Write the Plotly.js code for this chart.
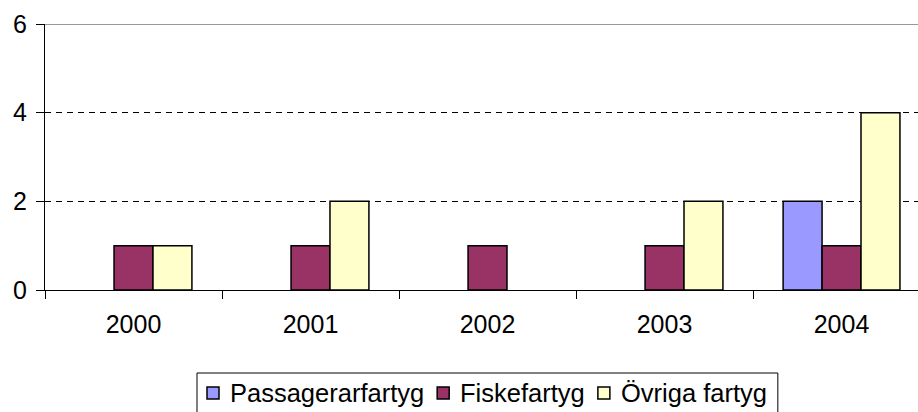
<!DOCTYPE html>
<html>
<head>
<meta charset="utf-8">
<script src="https://cdn.plot.ly/plotly-3.0.1.min.js"></script>
<style>html,body{margin:0;padding:0;background:#fff;}#chart{width:918px;height:412px;}</style>
</head>
<body>
<div id="chart"></div>
<script>
var years = ['2000', '2001', '2002', '2003', '2004'];
var seriesNames = ['Passagerarfartyg', 'Fiskefartyg', 'Övriga fartyg'];
var passagerarfartyg = [0, 0, 0, 0, 2];
var fiskefartyg = [1, 1, 1, 1, 1];
var ovrigaFartyg = [1, 2, 0, 2, 4];
var yTicks = [0, 2, 4, 6];

var colors = ['#9999FF', '#993366', '#FFFFCC'];
var values = [passagerarfartyg, fiskefartyg, ovrigaFartyg];

var W = 918, H = 412, ML = 45, MR = 0, MT = 24, MB = 122;
var plotW = W - ML - MR, plotH = H - MT - MB;
var fontFamily = 'Liberation Sans, Arial, sans-serif';
var font = {family: fontFamily, size: 25, color: '#000000'};
var legendFontSize = 25.5;
var legendFont = {family: fontFamily, size: legendFontSize, color: '#000000'};

var traces = values.map(function (v, i) {
  return {
    type: 'bar',
    name: seriesNames[i],
    x: years,
    y: v,
    marker: {
      color: colors[i],
      line: {color: '#000000', width: v.map(function (d) { return d > 0 ? 1.5 : 0; })}
    },
    showlegend: false,
    hoverinfo: 'x+y+name'
  };
});

// custom legend (text measured so items sit close like the original)
function px2x(px) { return (px - ML) / plotW; }
function px2y(py) { return (MT + plotH - py) / plotH; }
var ctx = document.createElement('canvas').getContext('2d');
ctx.font = legendFontSize + 'px ' + fontFamily;

var shapes = [{
  type: 'line', xref: 'paper', yref: 'y',
  x0: 0, x1: 1, y0: 6, y1: 6,
  line: {color: '#999999', width: 2}
}];
var annotations = [];
var lx = 207, symTop = 387, symSize = 12, textY = 393;
var legendLeft = 197, legendTop = 373;
seriesNames.forEach(function (name, i) {
  shapes.push({
    type: 'rect', xref: 'paper', yref: 'paper',
    x0: px2x(lx), x1: px2x(lx + symSize),
    y0: px2y(symTop + symSize), y1: px2y(symTop),
    fillcolor: colors[i], line: {color: '#000000', width: 1.5}
  });
  var tx = lx + symSize + 11;
  annotations.push({
    xref: 'paper', yref: 'paper', x: px2x(tx), y: px2y(textY),
    xanchor: 'left', yanchor: 'middle', showarrow: false,
    text: name, font: legendFont, borderpad: 0, xshift: -1
  });
  var w = ctx.measureText(name).width;
  lx = tx + w + 13;
});
var legendRight = lx - 2;
shapes.unshift({
  type: 'rect', xref: 'paper', yref: 'paper',
  x0: px2x(legendLeft), x1: px2x(legendRight),
  y0: px2y(H + 10), y1: px2y(legendTop),
  fillcolor: '#ffffff', line: {color: '#000000', width: 1}
});

var layout = {
  width: W,
  height: H,
  margin: {l: ML, r: MR, t: MT, b: MB, pad: 0, autoexpand: false},
  paper_bgcolor: '#ffffff',
  plot_bgcolor: '#ffffff',
  font: font,
  barmode: 'group',
  bargap: 0.34,
  bargroupgap: 0,
  showlegend: false,
  xaxis: {
    type: 'category',
    range: [-0.5, 4.432],
    showline: true, linecolor: '#000000', linewidth: 1,
    ticks: 'outside', tickson: 'boundaries', ticklen: 8, tickcolor: '#000000', tickwidth: 1,
    showgrid: false, zeroline: false,
    tickfont: font,
    ticklabelstandoff: 12,
    fixedrange: true
  },
  yaxis: {
    range: [0, 6],
    tickvals: yTicks,
    ticktext: yTicks.map(String),
    showline: true, linecolor: '#000000', linewidth: 1,
    ticks: 'outside', ticklen: 8, tickcolor: '#000000', tickwidth: 1,
    showgrid: true, gridcolor: '#000000', gridwidth: 1, griddash: '6px,5px',
    zeroline: false,
    tickfont: font,
    ticklabelstandoff: 4,
    fixedrange: true
  },
  shapes: shapes,
  annotations: annotations
};

Plotly.newPlot('chart', traces, layout, {displayModeBar: false, staticPlot: true});
</script>
</body>
</html>
